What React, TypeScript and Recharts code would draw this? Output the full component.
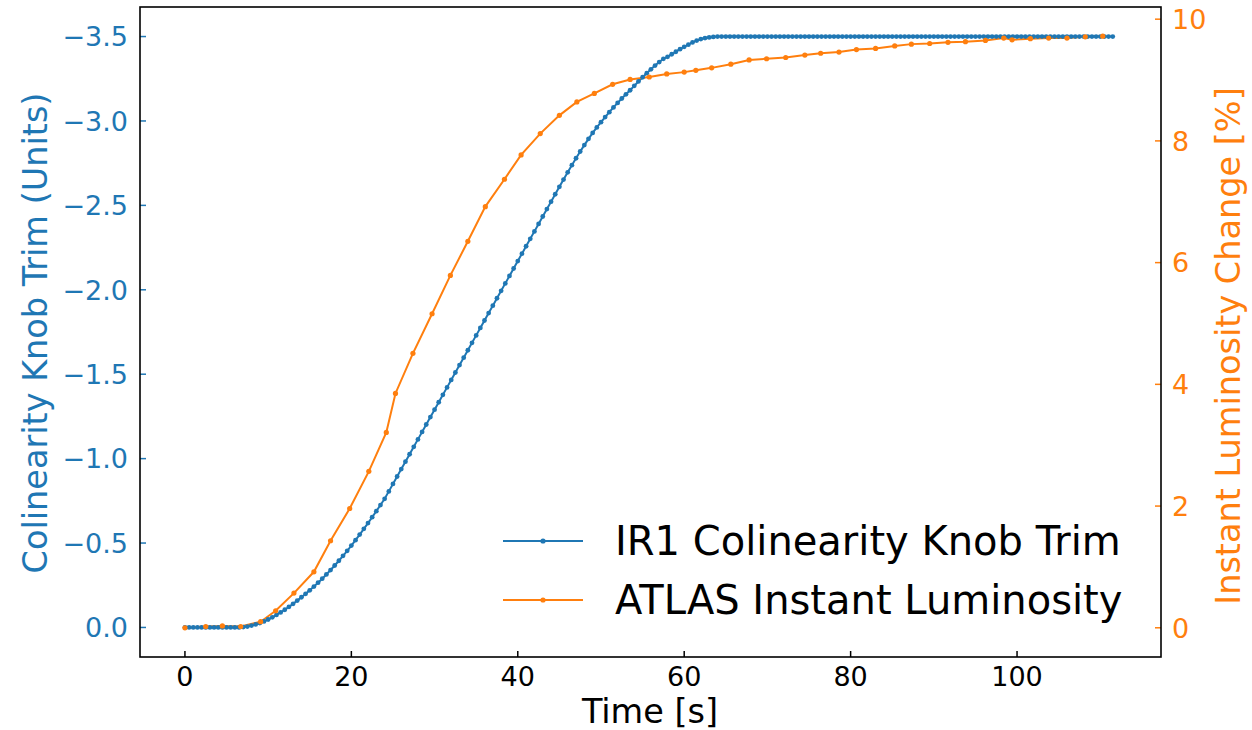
import React from "react";
import { LineChart, Line, XAxis, YAxis } from "recharts";

const BLUE = "#1f77b4";
const ORANGE = "#ff7f0e";
const FONT = "'DejaVu Sans', 'Liberation Sans', sans-serif";

// IR1 colinearity knob trim, sampled every 0.5 s starting at t = 0
const trimStart = 0;
const trimStep = 0.5;
const trimValues = [
  0, 0, 0, 0, 0, 0, 0, 0, 0, 0, 0, 0, 0, 0,
  -0.002, -0.005, -0.011, -0.018, -0.026, -0.036, -0.047, -0.06, -0.074, -0.089,
  -0.105, -0.122, -0.14, -0.159, -0.179, -0.199, -0.22, -0.242, -0.265, -0.289,
  -0.314, -0.34, -0.367, -0.395, -0.424, -0.454, -0.485, -0.517, -0.55, -0.584,
  -0.618, -0.653, -0.689, -0.725, -0.762,
  -0.806, -0.85, -0.894, -0.938, -0.982, -1.026, -1.07, -1.114, -1.158, -1.202,
  -1.246, -1.29, -1.334, -1.378, -1.422, -1.466, -1.51, -1.554, -1.598, -1.642,
  -1.686, -1.73, -1.774, -1.818, -1.862, -1.906, -1.95, -1.994, -2.038, -2.082,
  -2.126, -2.17, -2.214, -2.258, -2.302, -2.346, -2.39, -2.434, -2.478, -2.522,
  -2.566, -2.61,
  -2.653, -2.696, -2.738, -2.779, -2.819, -2.857, -2.894, -2.929, -2.962, -2.993,
  -3.023, -3.052, -3.08, -3.107, -3.133, -3.158, -3.182, -3.208, -3.234,
  -3.259, -3.283, -3.306, -3.328, -3.349, -3.368, -3.38, -3.395, -3.41, -3.425,
  -3.439, -3.452, -3.465, -3.476, -3.485, -3.491, -3.495, -3.498, -3.5, -3.5,
  -3.5, -3.5, -3.5, -3.5, -3.5, -3.5, -3.5, -3.5, -3.5, -3.5,
  -3.5, -3.5, -3.5, -3.5, -3.5, -3.5, -3.5, -3.5, -3.5, -3.5,
  -3.5, -3.5, -3.5, -3.5, -3.5, -3.5, -3.5, -3.5, -3.5, -3.5,
  -3.5, -3.5, -3.5, -3.5, -3.5, -3.5, -3.5, -3.5, -3.5, -3.5,
  -3.5, -3.5, -3.5, -3.5, -3.5, -3.5, -3.5, -3.5, -3.5, -3.5,
  -3.5, -3.5, -3.5, -3.5, -3.5, -3.5, -3.5, -3.5, -3.5, -3.5,
  -3.5, -3.5, -3.5, -3.5, -3.5, -3.5, -3.5, -3.5, -3.5, -3.5,
  -3.5, -3.5, -3.5, -3.5, -3.5, -3.5, -3.5, -3.5, -3.5, -3.5,
  -3.5, -3.5, -3.5, -3.5, -3.5, -3.5, -3.5, -3.5, -3.5, -3.5,
  -3.5, -3.5, -3.5, -3.5,
];

// ATLAS instant luminosity change [%]
const lumiTimes = [
  0, 2.5, 4.5, 6.7, 9.1, 10.9, 13.1, 15.5, 17.5, 19.8,
  22.1, 24.2, 25.3, 27.4, 29.7, 31.9, 34.0, 36.1, 38.4, 40.4,
  42.7, 45.0, 47.1, 49.2, 51.4, 53.5, 55.8, 57.9, 60.0, 61.4,
  63.3, 65.6, 67.8, 69.9, 72.2, 74.5, 76.4, 78.6, 80.7, 83.0,
  85.3, 87.3, 89.5, 91.7, 93.8, 96.2, 98.4, 99.4, 101.6, 103.8,
  106.0, 108.2, 110.3,
];
const lumiValues = [
  0, 0.02, 0.03, 0.02, 0.1, 0.28, 0.57, 0.92, 1.43, 1.96,
  2.57, 3.21, 3.85, 4.51, 5.16, 5.79, 6.35, 6.92, 7.37, 7.77,
  8.12, 8.42, 8.64, 8.78, 8.93, 9.01, 9.05, 9.1, 9.13, 9.16,
  9.2, 9.26, 9.33, 9.35, 9.37, 9.41, 9.44, 9.46, 9.5, 9.52,
  9.56, 9.59, 9.6, 9.62, 9.63, 9.65, 9.69, 9.66, 9.68, 9.69,
  9.69, 9.71, 9.72,
];

const xTicks = [0, 20, 40, 60, 80, 100];
const trimTicks = [0, -0.5, -1, -1.5, -2, -2.5, -3, -3.5];
const lumiTicks = [0, 2, 4, 6, 8, 10];

const trimData = trimValues.map((v, i) => ({ t: trimStart + i * trimStep, v }));
const lumiData = lumiTimes.map((t, i) => ({ t, v: lumiValues[i] }));

// plot box (matplotlib axes)
const PLOT = { left: 140, top: 7, right: 1161, bottom: 657 };
const TICK_FS = 27;
const LABEL_FS = 33.5;
const LEGEND_FS = 40;
const TICK_LEN = 6;

const fmtTrim = (v: number) =>
  v < 0 ? "\u2212" + Math.abs(v).toFixed(1) : v.toFixed(1);

const LeftTick = (props: any) => {
  const { x, y, payload } = props;
  return (
    <g>
      <line x1={x + 12} x2={x + 12 + TICK_LEN} y1={y} y2={y} stroke={BLUE} strokeWidth={1.5} />
      <text x={x} y={y} dy="0.36em" textAnchor="end" fill={BLUE} fontSize={TICK_FS} fontFamily={FONT}>
        {fmtTrim(payload.value)}
      </text>
    </g>
  );
};

const RightTick = (props: any) => {
  const { x, y, payload } = props;
  return (
    <g>
      <line x1={x - 11} x2={x - 11 - TICK_LEN} y1={y} y2={y} stroke={ORANGE} strokeWidth={1.5} />
      <text x={x} y={y} dy="0.36em" textAnchor="start" fill={ORANGE} fontSize={TICK_FS} fontFamily={FONT}>
        {payload.value}
      </text>
    </g>
  );
};

const BottomTick = (props: any) => {
  const { x, y, payload } = props;
  return (
    <g>
      <line x1={x} x2={x} y1={y - 9} y2={y - 9 - TICK_LEN} stroke="#000" strokeWidth={1.5} />
      <text x={x} y={y} dy="0.75em" textAnchor="middle" fill="#000" fontSize={TICK_FS} fontFamily={FONT}>
        {payload.value}
      </text>
    </g>
  );
};

const legendItems = [
  { label: "IR1 Colinearity Knob Trim", color: BLUE },
  { label: "ATLAS Instant Luminosity", color: ORANGE },
];

export default function App() {
  return (
    <div
      style={{
        position: "absolute",
        left: 0,
        top: 0,
        width: 1252,
        height: 730,
        background: "#fff",
        fontFamily: FONT,
      }}
    >
      <LineChart
        width={1252}
        height={730}
        margin={{ top: PLOT.top, right: 0, bottom: 0, left: 0 }}
      >
        <XAxis
          dataKey="t"
          type="number"
          domain={[-5.4, 117.3]}
          allowDataOverflow
          ticks={xTicks}
          interval={0}
          height={730 - PLOT.bottom}
          axisLine={false}
          tickLine={false}
          tickSize={0}
          tickMargin={9}
          tick={BottomTick}
        />
        <YAxis
          yAxisId="left"
          type="number"
          domain={[-3.675, 0.175]}
          allowDataOverflow
          reversed
          ticks={trimTicks}
          interval={0}
          width={PLOT.left}
          axisLine={false}
          tickLine={false}
          tickSize={0}
          tickMargin={12}
          tick={LeftTick}
        />
        <YAxis
          yAxisId="right"
          orientation="right"
          type="number"
          domain={[-0.48, 10.2]}
          allowDataOverflow
          ticks={lumiTicks}
          interval={0}
          width={1252 - PLOT.right}
          axisLine={false}
          tickLine={false}
          tickSize={0}
          tickMargin={11}
          tick={RightTick}
        />
        <Line
          yAxisId="left"
          data={trimData}
          dataKey="v"
          stroke={BLUE}
          strokeWidth={2}
          dot={{ r: 2.4, fill: BLUE, stroke: BLUE, strokeWidth: 0 }}
          isAnimationActive={false}
        />
        <Line
          yAxisId="right"
          data={lumiData}
          dataKey="v"
          stroke={ORANGE}
          strokeWidth={2}
          dot={{ r: 2.6, fill: ORANGE, stroke: ORANGE, strokeWidth: 0 }}
          isAnimationActive={false}
        />
      </LineChart>

      {/* axes frame */}
      <svg
        width={1252}
        height={730}
        style={{ position: "absolute", left: 0, top: 0, pointerEvents: "none" }}
      >
        <rect
          x={PLOT.left}
          y={PLOT.top}
          width={PLOT.right - PLOT.left}
          height={PLOT.bottom - PLOT.top}
          fill="none"
          stroke="#000"
          strokeWidth={1.6}
        />
      </svg>

      {/* axis labels */}
      <div
        style={{
          position: "absolute",
          left: 36,
          top: 333,
          transform: "translate(-50%, -50%) rotate(-90deg)",
          whiteSpace: "nowrap",
          fontSize: LABEL_FS,
          lineHeight: 1,
          color: BLUE,
        }}
      >
        Colinearity Knob Trim (Units)
      </div>
      <div
        style={{
          position: "absolute",
          left: 1229,
          top: 346,
          transform: "translate(-50%, -50%) rotate(-90deg)",
          whiteSpace: "nowrap",
          fontSize: LABEL_FS,
          lineHeight: 1,
          color: ORANGE,
        }}
      >
        Instant Luminosity Change [%]
      </div>
      <div
        style={{
          position: "absolute",
          left: 650,
          top: 712,
          transform: "translate(-50%, -50%)",
          whiteSpace: "nowrap",
          fontSize: LABEL_FS,
          lineHeight: 1,
          color: "#000",
        }}
      >
        Time [s]
      </div>

      {/* legend, no frame */}
      <div style={{ position: "absolute", left: 495, top: 511 }}>
        {legendItems.map((item) => (
          <div key={item.label} style={{ display: "flex", alignItems: "center", height: 59 }}>
            <svg width={120} height={20}>
              <line x1={8} x2={88} y1={10} y2={10} stroke={item.color} strokeWidth={2} />
              <circle cx={48} cy={10} r={2.6} fill={item.color} />
            </svg>
            <span style={{ fontSize: LEGEND_FS, lineHeight: 1, color: "#000", whiteSpace: "nowrap" }}>
              {item.label}
            </span>
          </div>
        ))}
      </div>
    </div>
  );
}
